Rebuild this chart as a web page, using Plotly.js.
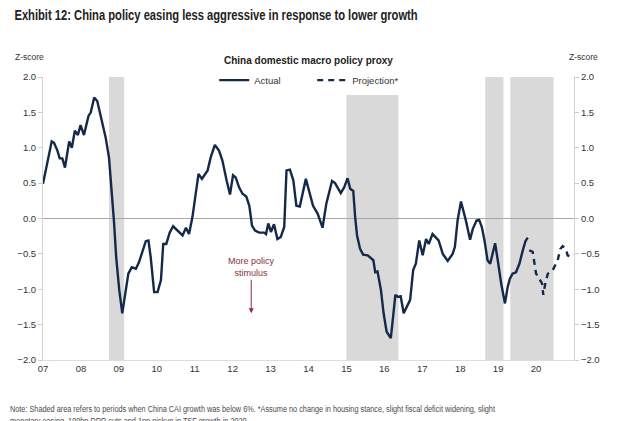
<!DOCTYPE html>
<html>
<head>
<meta charset="utf-8">
<script src="https://cdn.plot.ly/plotly-3.0.1.min.js"></script>
<style>html,body{margin:0;padding:0;background:#fff;}#chart{width:640px;height:421px;}</style>
</head>
<body>
<div id="chart"></div>
<script>
// Actual series (decimal year, z-score)
const actualYears = [2007.00,2007.23,2007.29,2007.38,2007.44,2007.51,2007.58,2007.69,2007.76,2007.84,2007.92,2007.99,2008.08,2008.20,2008.26,2008.35,2008.43,2008.56,2008.65,2008.74,2008.81,2008.87,2008.93,2009.01,2009.09,2009.16,2009.25,2009.34,2009.45,2009.53,2009.64,2009.71,2009.78,2009.84,2009.93,2010.02,2010.11,2010.17,2010.25,2010.34,2010.43,2010.54,2010.68,2010.77,2010.85,2010.94,2011.01,2011.10,2011.19,2011.34,2011.42,2011.53,2011.64,2011.73,2011.84,2011.93,2012.01,2012.08,2012.17,2012.26,2012.36,2012.44,2012.51,2012.59,2012.70,2012.83,2012.88,2012.94,2013.01,2013.09,2013.18,2013.27,2013.36,2013.42,2013.51,2013.60,2013.68,2013.77,2013.93,2014.02,2014.12,2014.24,2014.37,2014.47,2014.62,2014.70,2014.85,2014.94,2015.03,2015.10,2015.18,2015.23,2015.28,2015.36,2015.44,2015.56,2015.65,2015.71,2015.76,2015.82,2015.91,2015.98,2016.06,2016.17,2016.23,2016.29,2016.36,2016.43,2016.51,2016.60,2016.68,2016.76,2016.83,2016.92,2017.01,2017.10,2017.17,2017.27,2017.43,2017.54,2017.67,2017.80,2017.86,2017.93,2018.02,2018.15,2018.26,2018.33,2018.43,2018.50,2018.57,2018.64,2018.72,2018.79,2018.85,2018.92,2018.99,2019.08,2019.18,2019.25,2019.31,2019.38,2019.47,2019.56,2019.65,2019.72,2019.78];
const actualValues = [0.49,1.09,1.07,0.96,0.85,0.85,0.72,1.09,1.00,1.24,1.18,1.32,1.18,1.45,1.50,1.71,1.66,1.33,1.15,0.86,0.44,-0.03,-0.55,-1.01,-1.34,-1.11,-0.78,-0.69,-0.71,-0.62,-0.45,-0.32,-0.31,-0.55,-1.04,-1.04,-0.87,-0.36,-0.36,-0.20,-0.11,-0.17,-0.24,-0.13,-0.22,0.02,0.30,0.63,0.56,0.68,0.86,1.04,0.96,0.82,0.54,0.34,0.61,0.58,0.44,0.35,0.31,0.18,-0.10,-0.17,-0.20,-0.20,-0.22,-0.07,-0.19,-0.08,-0.29,-0.26,-0.12,0.68,0.69,0.54,0.18,0.17,0.56,0.39,0.18,0.07,-0.13,0.21,0.53,0.50,0.36,0.44,0.57,0.42,0.39,0.02,-0.24,-0.43,-0.51,-0.52,-0.57,-0.59,-0.76,-0.75,-1.01,-1.34,-1.60,-1.69,-1.39,-1.08,-1.11,-1.10,-1.34,-1.23,-1.15,-0.73,-0.64,-0.31,-0.52,-0.29,-0.36,-0.22,-0.31,-0.50,-0.60,-0.50,-0.40,-0.03,0.24,-0.03,-0.30,-0.15,-0.03,-0.02,-0.12,-0.31,-0.59,-0.64,-0.52,-0.35,-0.59,-0.92,-1.20,-0.97,-0.85,-0.78,-0.76,-0.64,-0.45,-0.32,-0.27];

// Projection series
const projYears = [2019.82,2019.91,2020.00,2020.09,2020.16,2020.19,2020.25,2020.31,2020.44,2020.57,2020.64,2020.70,2020.79,2020.83,2020.92,2020.97];
const projValues = [-0.45,-0.47,-0.78,-0.85,-0.92,-1.08,-0.90,-0.78,-0.73,-0.59,-0.43,-0.39,-0.43,-0.52,-0.54,-0.50];

// Shaded periods (China CAI growth below 6%)
const shadeStarts = [2008.74, 2015.00, 2018.66, 2019.32];
const shadeEnds   = [2009.14, 2016.37, 2019.14, 2020.46];

// Tick labels
const xTickVals = [2007,2008,2009,2010,2011,2012,2013,2014,2015,2016,2017,2018,2019,2020];
const xTickText = ['07','08','09','10','11','12','13','14','15','16','17','18','19','20'];
const yTickVals = [2.0,1.5,1.0,0.5,0.0,-0.5,-1.0,-1.5,-2.0];

const navy = '#14294a';
const traces = [
  {x: actualYears, y: actualValues, type:'scatter', mode:'lines', name:'Actual',
   line:{color:navy, width:2.4}, hoverinfo:'skip'},
  {x: projYears, y: projValues, type:'scatter', mode:'lines', name:'Projection*',
   line:{color:navy, width:2.4, dash:'6px,5px'}, hoverinfo:'skip'},
  {x: [xTickVals[0]], y: [0], yaxis:'y2', type:'scatter', mode:'lines', showlegend:false,
   line:{color:'rgba(0,0,0,0)'}, hoverinfo:'skip'}
];

const shapes = shadeStarts.map((s,i)=>({
  type:'rect', xref:'x', yref:'y', x0:s, x1:shadeEnds[i], y0:-2, y1:2,
  fillcolor:'#d9d9d9', line:{width:0}, layer:'below'
}));

const tickFont = {family:'Liberation Sans, Arial, sans-serif', size:9.5, color:'#333'};
const axisY = {
  range:[-2,2], tickvals:yTickVals, tickformat:'.1f', showgrid:false,
  zeroline:true, zerolinecolor:'#a8a8a8', zerolinewidth:1.5,
  showline:true, linecolor:'#d4d4d4', linewidth:1,
  ticks:'outside', ticklen:4, tickcolor:'#cccccc', tickfont:tickFont, fixedrange:true
};

const layout = {
  width:640, height:421,
  margin:{l:43, r:66, t:77, b:61},
  paper_bgcolor:'#ffffff', plot_bgcolor:'#ffffff',
  showlegend:true,
  legend:{orientation:'h', x:0.507, xanchor:'center', y:0.989, yanchor:'middle',
          bgcolor:'#ffffff', font:{family:'Liberation Sans, Arial, sans-serif', size:9.5, color:'#333'},
          entrywidth:53, tracegroupgap:0, itemwidth:30},
  xaxis:{range:[2007,2021], tickvals:xTickVals, ticktext:xTickText, showgrid:false, zeroline:false,
         showline:true, linecolor:'#dddddd', ticks:'', tickfont:tickFont, fixedrange:true},
  yaxis: Object.assign({}, axisY),
  yaxis2: Object.assign({}, axisY, {overlaying:'y', side:'right', zeroline:false}),
  shapes: shapes,
  annotations:[
    {xref:'paper', yref:'paper', x:-0.058, y:1.219, xanchor:'left', yanchor:'middle', showarrow:false,
     text:'<b>Exhibit 12: China policy easing less aggressive in response to lower growth</b>',
     font:{family:'Liberation Sans, Arial, sans-serif', size:14, color:'#222'}},
    {xref:'paper', yref:'paper', x:0.5, y:1.06, xanchor:'center', yanchor:'middle', showarrow:false,
     text:'<b>China domestic macro policy proxy</b>',
     font:{family:'Liberation Sans, Arial, sans-serif', size:10, color:'#222'}},
    {xref:'paper', yref:'paper', x:-0.057, y:1.07, xanchor:'left', yanchor:'middle', showarrow:false,
     text:'Z-score', font:{family:'Liberation Sans, Arial, sans-serif', size:8.5, color:'#333'}},
    {xref:'paper', yref:'paper', x:0.986, y:1.07, xanchor:'left', yanchor:'middle', showarrow:false,
     text:'Z-score', font:{family:'Liberation Sans, Arial, sans-serif', size:8.5, color:'#333'}},
    {xref:'x', yref:'y', x:2012.49, y:-1.34, ax:0, ay:-46, showarrow:true,
     arrowhead:2, arrowsize:1, arrowwidth:1, arrowcolor:'#8a2f3c',
     text:'More policy<br>stimulus', font:{family:'Liberation Sans, Arial, sans-serif', size:9, color:'#8a2f3c'}},
    {xref:'paper', yref:'paper', x:-0.066, y:-0.146, xanchor:'left', yanchor:'top', showarrow:false, align:'left',
     text:'Note: Shaded area refers to periods when China CAI growth was below 6%. *Assume no change in housing stance, slight fiscal deficit widening, slight<br>monetary easing, 100bp RRR cuts and 1pp pickup in TSF growth in 2020.',
     font:{family:'Liberation Sans, Arial, sans-serif', size:9.5, color:'#4a4a4a'}}
  ]
};

Plotly.newPlot('chart', traces, layout, {displayModeBar:false, staticPlot:true}).then(() => {
  // Condensed look for title and note (reference uses a narrow typeface)
  const texts = document.querySelectorAll('#chart .annotation .annotation-text');
  const squeeze = {0: 0.80, 5: 0.77};
  texts.forEach((t, i) => {
    if (squeeze[i]) {
      t.style.transformBox = 'fill-box';
      t.style.transformOrigin = '0% 50%';
      t.style.transform = 'scaleX(' + squeeze[i] + ')';
    }
  });
});
</script>
</body>
</html>
